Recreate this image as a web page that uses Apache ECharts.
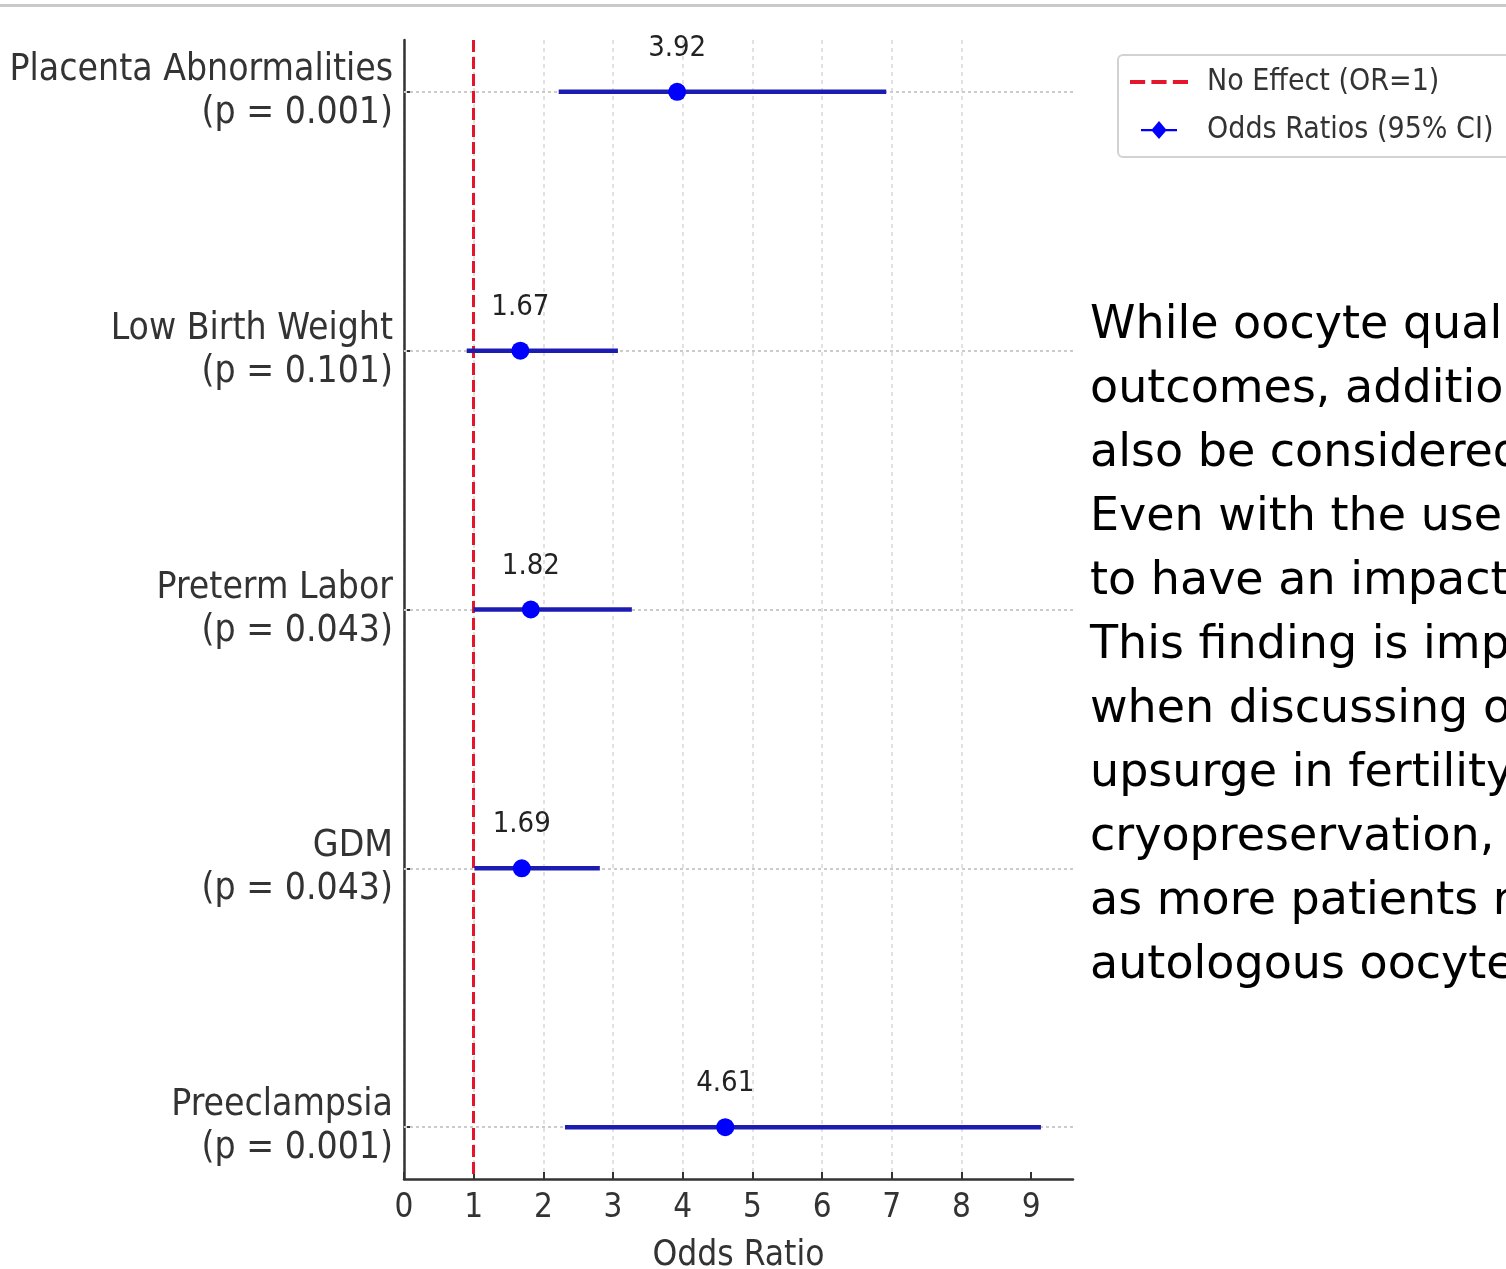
<!DOCTYPE html>
<html>
<head>
<meta charset="utf-8">
<script src="https://cdn.jsdelivr.net/npm/echarts@6/dist/echarts.min.js"></script>
<style>
  html, body { margin: 0; padding: 0; background: #fff; overflow: hidden; }
  #page { position: relative; width: 1506px; height: 1269px; overflow: hidden; }
  #topRule { position: absolute; left: 0; top: 4px; width: 1506px; height: 3px; background: #c9c9c9; }
  #chart { position: absolute; left: 0; top: 0; width: 1506px; height: 1269px; }
  #para {
    position: absolute; left: 1090px; top: 290px; width: 600px;
    font-family: "DejaVu Sans", Verdana, sans-serif; font-size: 46px; line-height: 64px;
    color: #000; white-space: nowrap;
  }
</style>
</head>
<body>
<div id="page">
  <div id="chart"></div>
  <div id="topRule"></div>
  <div id="para">While oocyte quality<br>outcomes, additional<br>also be considered<br>Even with the use<br>to have an impact<br>This finding is important<br>when discussing oocyte<br>upsurge in fertility<br>cryopreservation,<br>as more patients rely<br>autologous oocytes</div>
</div>
<script>
// forest plot values
const categories = ['Placenta Abnormalities', 'Low Birth Weight', 'Preterm Labor', 'GDM', 'Preeclampsia']
const pValues = ['0.001', '0.101', '0.043', '0.043', '0.001']
const oddsRatios = [3.92, 1.67, 1.82, 1.69, 4.61]
const ciLower = [2.22, 0.90, 1.00, 1.01, 2.31]
const ciUpper = [6.92, 3.07, 3.27, 2.81, 9.14]
const xTicks = [0, 1, 2, 3, 4, 5, 6, 7, 8, 9]
const noEffectOR = 1

const FONT = '"DejaVu Sans Condensed", "DejaVu Sans", sans-serif'
const rowIdx = categories.map((c, i) => i)
const yLabels = categories.map((c, i) => c + '\n(p = ' + pValues[i] + ')')

const chart = echarts.init(document.getElementById('chart'))

chart.setOption({
  animation: false,
  textStyle: { fontFamily: FONT },
  grid: { left: 404, top: 40, width: 669, height: 1139, outerBoundsMode: 'none', containLabel: false },
  legend: {
    orient: 'vertical',
    left: 1118,
    top: 55,
    padding: [12, 40, 12, 12],
    borderColor: '#d2d2d2',
    borderWidth: 2,
    borderRadius: 5,
    itemWidth: 58,
    itemHeight: 18,
    itemGap: 18,
    textStyle: { fontFamily: FONT, fontSize: 30, color: '#333', padding: [0, 0, 0, 14] },
    data: [
      { name: 'No Effect (OR=1)', icon: 'path://M0,0h12v3h-12z M17,0h12v3h-12z M34,0h12v3h-12z', itemStyle: { color: '#e3162c' } },
      { name: 'Odds Ratios (95% CI)', icon: 'path://M0,7h10l6,-7l6,7h10v2h-10l-6,7l-6,-7h-10z', itemStyle: { color: '#0000ff' } }
    ]
  },
  xAxis: {
    type: 'value',
    min: 0,
    max: 9.6,
    interval: 1,
    name: 'Odds Ratio',
    nameLocation: 'middle',
    nameGap: 59,
    nameTextStyle: { fontFamily: FONT, fontSize: 35, color: '#333' },
    axisLine: { show: true, onZero: false, lineStyle: { color: '#333', width: 2.5 } },
    axisTick: { show: true, inside: true, length: 7, customValues: xTicks, lineStyle: { color: '#333', width: 2 } },
    axisLabel: { customValues: xTicks, fontFamily: FONT, fontSize: 33, color: '#333', margin: 13 },
    splitLine: { show: true, showMaxLine: false, lineStyle: { color: '#d8d8d8', width: 1.5, type: [4, 4] } }
  },
  yAxis: {
    type: 'value',
    inverse: true,
    min: -0.2,
    max: 4.2,
    axisLine: { show: true, onZero: false, lineStyle: { color: '#333', width: 2.5 } },
    axisTick: { show: true, inside: true, length: 8, customValues: rowIdx, lineStyle: { color: '#333', width: 2 } },
    axisLabel: {
      customValues: rowIdx,
      formatter: v => yLabels[Math.round(v)],
      fontFamily: FONT, fontSize: 37, lineHeight: 43, color: '#333', margin: 11, align: 'right',
      padding: [18, 0, 0, 0]
    },
    splitLine: { show: false }
  },
  series: [
    {
      // horizontal dotted guide at each row
      name: 'rows',
      type: 'line',
      data: [],
      z: 1,
      markLine: {
        silent: true,
        z: 1,
        symbol: ['none', 'none'],
        label: { show: false },
        lineStyle: { color: '#cbcbcb', width: 2, type: [3, 3] },
        data: rowIdx.map(i => ({ yAxis: i }))
      }
    },
    {
      name: 'No Effect (OR=1)',
      type: 'line',
      data: [],
      symbol: 'none',
      color: '#e3162c',
      z: 3,
      markLine: {
        silent: true,
        z: 3,
        symbol: ['none', 'none'],
        label: { show: false },
        lineStyle: { color: '#e3162c', width: 3, type: [12, 5] },
        data: [{ xAxis: noEffectOR }]
      }
    },
    {
      name: 'Odds Ratios (95% CI)',
      type: 'custom',
      z: 4,
      encode: { x: [1, 2], y: 0 },
      data: rowIdx.map(i => [i, ciLower[i], ciUpper[i]]),
      renderItem: (params, api) => {
        const y = api.value(0)
        const a = api.coord([api.value(1), y])
        const b = api.coord([api.value(2), y])
        return {
          type: 'line',
          shape: { x1: a[0], y1: a[1], x2: b[0], y2: b[1] },
          style: { stroke: '#1c1cb2', lineWidth: 4.5 }
        }
      }
    },
    {
      name: 'Odds Ratios (95% CI)',
      type: 'scatter',
      z: 5,
      symbol: 'circle',
      symbolSize: 18,
      itemStyle: { color: '#0000ff', opacity: 1 },
      data: rowIdx.map(i => [oddsRatios[i], i]),
      label: {
        show: true,
        position: 'top',
        distance: 20,
        fontFamily: FONT,
        fontSize: 29,
        color: '#222',
        formatter: p => p.value[0].toFixed(2)
      }
    }
  ]
})
</script>
</body>
</html>
